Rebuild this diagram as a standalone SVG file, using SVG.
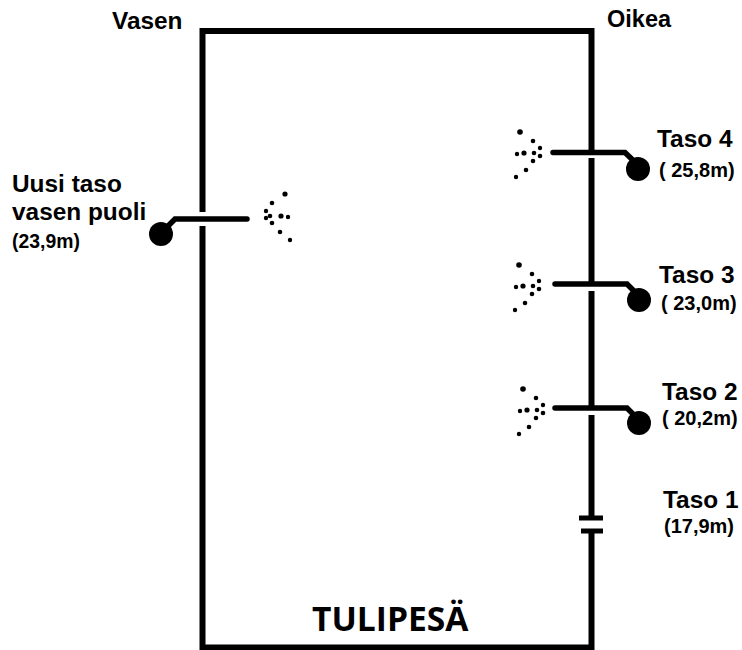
<svg xmlns="http://www.w3.org/2000/svg" width="742" height="650" viewBox="0 0 742 650">
<style>
.w{fill:none;stroke:#000;stroke-width:6}
.p{fill:none;stroke:#000;stroke-width:5.500;stroke-linecap:round;stroke-linejoin:miter}
.c{fill:none;stroke:#000;stroke-width:5}
.n{font-family:"Liberation Sans",Arial,sans-serif;font-weight:bold;font-size:24.400px;fill:#000}
.s{font-family:"Liberation Sans",Arial,sans-serif;font-weight:bold;font-size:20px;fill:#000}
.t{font-family:"Open Sans","Noto Sans",sans-serif;font-weight:700;font-size:33.600px;fill:#000}
</style>
<defs>
<g id="spray"><circle cx="30" cy="22" r="2.800"/><circle cx="43" cy="31" r="2.300"/><circle cx="50" cy="38" r="2.200"/><circle cx="44" cy="43" r="2.300"/><circle cx="50" cy="46" r="2.300"/><circle cx="43" cy="51" r="2.300"/><circle cx="34" cy="43" r="2.600"/><circle cx="27" cy="44" r="2.200"/><circle cx="36" cy="60" r="2.300"/><circle cx="26" cy="67" r="2.200"/></g>
</defs>
<g id="connectors">
<path class="w" d="M591.500 31V153M591.500 158V284M591.500 291V408M591.500 415V518M591.500 531V648M594.500 647.500H202.500V226M202.500 212V31H594.500"/>
<path class="c" d="M579 518H603M581 531H603"/>
<path class="p" d="M553 152.500H625L638 165"/>
<path class="p" d="M555 284H627L639 296"/>
<path class="p" d="M555 408H627L639 420"/>
<path class="p" d="M247 219H175L161 233"/>
</g>
<g id="taso4"><circle cx="638" cy="169" r="12"/><use href="#spray" transform="translate(490 110)"/><text class="n" x="657" y="147">Taso 4</text><text class="s" x="659" y="177">( 25,8m)</text></g>
<g id="taso3"><circle cx="639" cy="300" r="12"/><use href="#spray" transform="translate(489 243)"/><text class="n" x="659" y="283">Taso 3</text><text class="s" x="661" y="310">( 23,0m)</text></g>
<g id="taso2"><circle cx="639" cy="423" r="12"/><use href="#spray" transform="translate(493 367)"/><text class="n" x="662" y="400">Taso 2</text><text class="s" x="662" y="425">( 20,2m)</text></g>
<g id="taso1"><text class="n" x="663" y="508">Taso 1</text><text class="s" x="664" y="533">(17,9m)</text></g>
<g id="uusi"><circle cx="161" cy="234" r="12"/><text class="n" x="12" y="192">Uusi taso</text><text class="n" x="12" y="220">vasen puoli</text><text class="s" x="12" y="248" font-size="19.400" style="font-size:19.400px">(23,9m)</text>
<g><circle cx="285" cy="194" r="2.600"/><circle cx="272" cy="203" r="2.300"/><circle cx="266" cy="211" r="2.200"/><circle cx="270" cy="216" r="2.300"/><circle cx="266" cy="218" r="2.200"/><circle cx="272" cy="223" r="2.300"/><circle cx="281" cy="216" r="2.600"/><circle cx="288" cy="217" r="2.200"/><circle cx="280" cy="232" r="2.300"/><circle cx="290" cy="240" r="2.200"/></g></g>
<g id="vasen"><text class="n" x="112" y="29">Vasen</text></g>
<g id="oikea"><text class="n" x="607" y="27" style="font-size:23.500px">Oikea</text></g>
<g id="tulipesa"><text class="t" x="312" y="631">TULIPESÄ</text></g>
</svg>
